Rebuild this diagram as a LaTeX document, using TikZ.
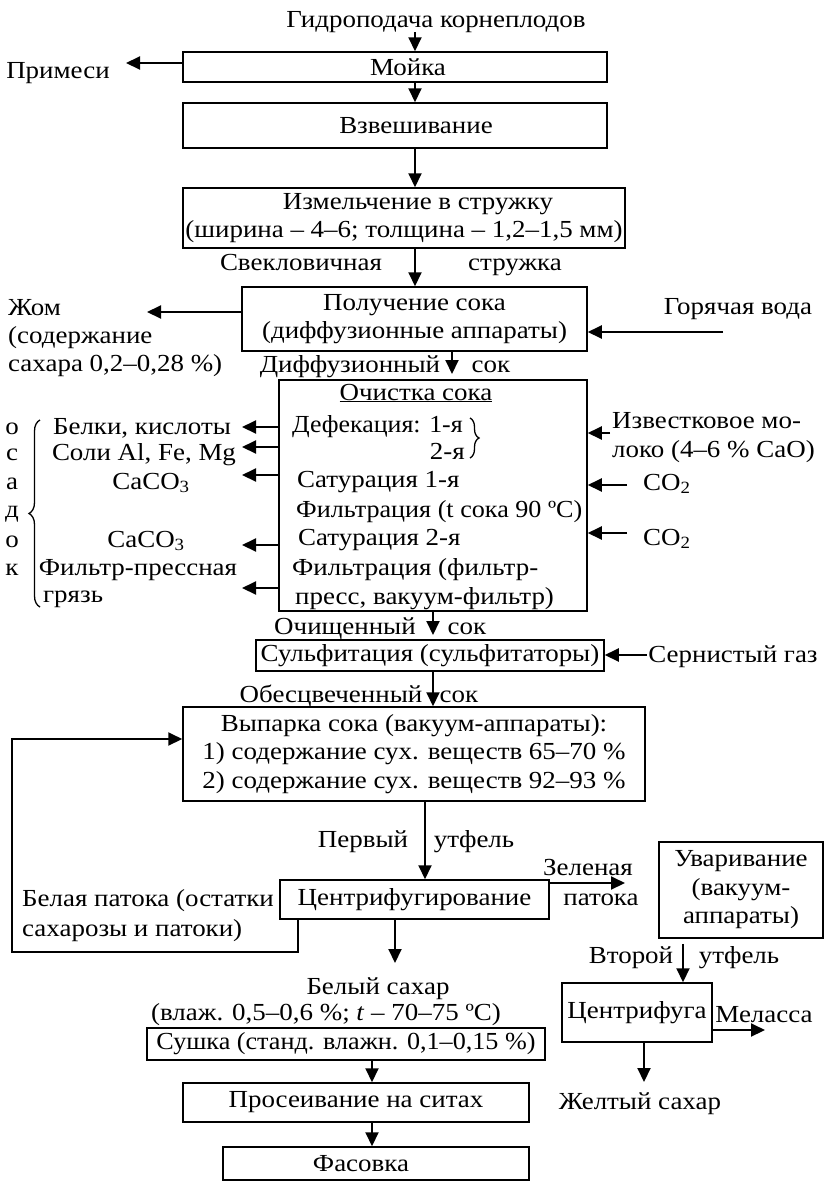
\documentclass[tikz,border=0pt]{standalone}
\usepackage{fontspec}
\setmainfont{Liberation Serif}[FakeStretch=1.1]
\usetikzlibrary{arrows.meta,decorations.pathreplacing,calc}
\newcommand\fs{\fontsize{24.5}{28.5}\selectfont}
\tikzset{
  box/.style={draw, line width=1.5pt, inner sep=0pt, align=center, font=\fs},
  arr/.style={line width=2pt, -{Triangle[length=14pt,width=13pt]}},
  txt/.style={inner sep=0pt, font=\fs},
  brc/.style={line width=1.3pt, decorate},
}
\begin{document}
\begin{tikzpicture}[x=1pt,y=-1pt]
\useasboundingbox (0,0) rectangle (824,1181);
% ---------- boxes ----------
\node[box, minimum width=424pt, minimum height=30pt] (moika) at (395,67) {\hspace*{26pt}Мойка};
\node[box, minimum width=424pt, minimum height=45pt] (vzvesh) at (395,125.5) {\hspace*{42pt}Взвешивание};
\node[box, minimum width=442pt, minimum height=60pt] (izmel) at (404,218) {\hspace*{28pt}Измельчение в стружку\\(ширина – 4–6; толщина – 1,2–1,5 мм)};
\node[box, minimum width=345pt, minimum height=64pt] (poluch) at (414.5,319) {Получение сока\\(диффузионные аппараты)};
\node[box, minimum width=308pt, minimum height=231pt] (ochist) at (433,495.5) {};
\node[box, minimum width=348pt, minimum height=31pt] (sulf) at (430,655.5) {Сульфитация (сульфитаторы)};
\node[box, minimum width=462pt, minimum height=94pt] (vyp) at (414,754) {Выпарка сока (вакуум-аппараты):\\1) содержание сух. веществ 65–70 \%\\2) содержание сух. веществ 92–93 \%};
\node[box, minimum width=269pt, minimum height=39pt] (centrif) at (414.5,899.5) {Центрифугирование};
\node[box, minimum width=164pt, minimum height=96pt] (uvar) at (741,890) {Уваривание\\(вакуум-\\аппараты)};
\node[box, minimum width=150pt, minimum height=59pt] (centrifuga) at (637,1012.5) {Центрифуга};
\node[box, minimum width=398pt, minimum height=32pt] (sushka) at (346,1044) {\scalebox{0.97}[1]{Сушка (станд. влажн. 0,1–0,15 \%)}};
\node[box, minimum width=346pt, minimum height=39pt] (prosei) at (356,1102.5) {Просеивание на ситах};
\node[box, minimum width=306pt, minimum height=33pt] (fasov) at (376,1163.5) {Фасовка\hspace*{30pt}};
% ---------- free texts ----------
\node[txt, anchor=base] (src) at (436,27) {Гидроподача корнеплодов};
\node[txt, anchor=base] (prim) at (58,78) {Примеси};
\node[txt, anchor=base] (svek) at (301,270) {Свекловичная};
\node[txt, anchor=base] (struzh) at (515,270) {стружка};
\node[txt, anchor=base west] (zhom1) at (8,315) {Жом};
\node[txt, anchor=base west] (zhom2) at (8,343) {(содержание};
\node[txt, anchor=base west] (zhom3) at (8,371) {сахара 0,2–0,28 \%)};
\node[txt, anchor=base] (gorv) at (738,314) {Горячая вода};
\node[txt, anchor=base] (diff) at (350,372) {Диффузионный};
\node[txt, anchor=base] (diffsok) at (491,372) {сок};
% inside purification box
\node[txt, anchor=base] (ochtitle) at (416,400) {\underline{Очистка сока}};
\node[txt, anchor=base west] (def1) at (292,432) {\scalebox{0.96}[1]{Дефекация: 1-я}};
\node[txt, anchor=base east] (def2) at (465,459) {2-я};
\node[txt, anchor=base west] (sat1) at (297,487) {Сатурация 1-я};
\node[txt, anchor=base west] (fil1) at (296,517) {\scalebox{0.97}[1]{Фильтрация (t сока 90 ºC)}};
\node[txt, anchor=base west] (sat2) at (298,545) {Сатурация 2-я};
\node[txt, anchor=base west] (fil2a) at (292,575) {Фильтрация (фильтр-};
\node[txt, anchor=base west] (fil2b) at (295,604) {пресс, вакуум-фильтр)};
% left sediments
\node[txt, anchor=base] (belki) at (142,434) {Белки, кислоты};
\node[txt, anchor=base] (soli) at (144,460) {Соли Al, Fe, Mg};
\node[txt, anchor=base] (caco1) at (151,489) {CaCO\textsubscript{3}};
\node[txt, anchor=base] (caco2) at (146,547) {CaCO\textsubscript{3}};
\node[txt, anchor=base] (filtrp) at (138,575) {Фильтр-прессная};
\node[txt, anchor=base west] (gryaz) at (43,602) {грязь};
\node[txt, anchor=base] (o1) at (12,434) {о};
\node[txt, anchor=base] (s1) at (12,460) {с};
\node[txt, anchor=base] (a1) at (12,489) {а};
\node[txt, anchor=base] (d1) at (12,517) {д};
\node[txt, anchor=base] (o2) at (12,547) {о};
\node[txt, anchor=base] (k1) at (12,575) {к};
% right inputs
\node[txt, anchor=base west] (izv1) at (612,428) {Известковое мо-};
\node[txt, anchor=base west] (izv2) at (612,457) {локо (4–6 \% CaO)};
\node[txt, anchor=base west] (co1) at (643,490) {CO\textsubscript{2}};
\node[txt, anchor=base west] (co2) at (643,545) {CO\textsubscript{2}};
\node[txt, anchor=base] (ochsh) at (345,634) {Очищенный};
\node[txt, anchor=base] (ochsok) at (467,634) {сок};
\node[txt, anchor=base] (serg) at (733,662) {Сернистый газ};
\node[txt, anchor=base] (obes) at (331,702) {Обесцвеченный};
\node[txt, anchor=base] (obessok) at (459,702) {сок};
\node[txt, anchor=base] (perv) at (363,847) {Первый};
\node[txt, anchor=base] (utf1) at (474,847) {утфель};
\node[txt, anchor=base west] (bel1) at (22,906) {Белая патока (остатки};
\node[txt, anchor=base west] (bel2) at (22,936) {сахарозы и патоки)};
\node[txt, anchor=base] (zel) at (588,875) {Зеленая};
\node[txt, anchor=base] (pat) at (601,905) {патока};
\node[txt, anchor=base] (vtor) at (631,963) {Второй};
\node[txt, anchor=base] (utf2) at (739,963) {утфель};
\node[txt, anchor=base] (mel) at (764,1022) {Меласса};
\node[txt, anchor=base] (zhelt) at (640,1109) {Желтый сахар};
\node[txt, anchor=base] (bels) at (378,994) {Белый сахар};
\node[txt, anchor=base] (vlazh) at (326,1020) {(влаж. 0,5–0,6 \%; \textit{t} – 70–75 ºC)};
% ---------- braces ----------
\draw[brc, decoration={brace, amplitude=11pt}] (40,607) -- (40,420);
\draw[brc, decoration={brace, amplitude=9pt}] (470,418) -- (470,458);
% ---------- connectors ----------
\draw[arr] (src.south -| 415,0) -- (moika.north -| 415,0);
\draw[arr] (moika.west |- 0,63) -- (126,63);
\draw[arr] (moika.south -| 415,0) -- (vzvesh.north -| 415,0);
\draw[arr] (vzvesh.south -| 415,0) -- (izmel.north -| 415,0);
\draw[arr] (izmel.south -| 415,0) -- (poluch.north -| 415,0);
\draw[arr] (poluch.west |- 0,312) -- (147,312);
\draw[arr] (723,332) -- (poluch.east |- 0,332);
\draw[arr] (poluch.south -| 452,0) -- (452,374);
% purification side arrows
\draw[arr] (ochist.west |- 0,427) -- (242,427);
\draw[arr] (ochist.west |- 0,447) -- (242,447);
\draw[arr] (ochist.west |- 0,475) -- (242,475);
\draw[arr] (ochist.west |- 0,545) -- (242,545);
\draw[arr] (ochist.west |- 0,588) -- (242,588);
\draw[arr] (610,433) -- (ochist.east |- 0,433);
\draw[arr] (627,485) -- (ochist.east |- 0,485);
\draw[arr] (627,533) -- (ochist.east |- 0,533);
\draw[arr] (ochist.south -| 433,0) -- (433,635);
\draw[arr] (647,655) -- (sulf.east |- 0,655);
\draw[arr] (sulf.south -| 433,0) -- (vyp.north -| 433,0);
\draw[arr] (vyp.south -| 425,0) -- (centrif.north -| 425,0);
\draw[arr] (centrif.east |- 0,883) -- (625,883);
\draw[arr] (centrif.south -| 395,0) -- (395,963);
\draw[arr] (centrif.south -| 298,0) -- (298,952) -- (12,952) -- (12,739) -- (vyp.west |- 0,739);
\draw[arr] (uvar.south -| 683,0) ++(0,5) -- (centrifuga.north -| 683,0);
\draw[arr] (centrifuga.east |- 0,1030) -- (765,1030);
\draw[arr] (centrifuga.south -| 644,0) -- (644,1082);
\draw[arr] (sushka.south -| 372,0) -- (prosei.north -| 372,0);
\draw[arr] (prosei.south -| 372,0) -- (fasov.north -| 372,0);
\end{tikzpicture}
\end{document}
